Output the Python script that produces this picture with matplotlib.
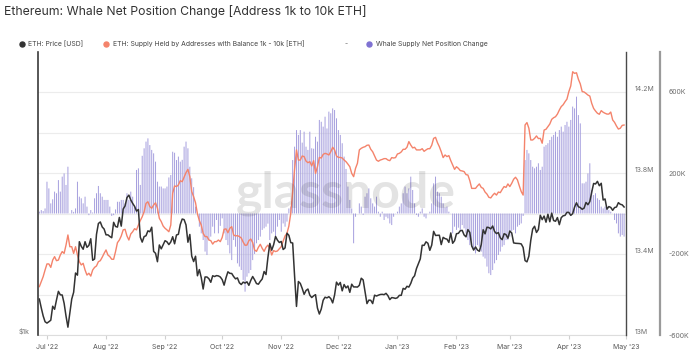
import matplotlib.pyplot as plt
import pandas as pd
from matplotlib.lines import Line2D

plt.rcParams['font.family'] = ['Inter', 'DejaVu Sans']

START = '2022-06-27'

# ETH price [USD], daily
price_jun = [1192, 1142, 1098, 1067]
price_jul = [1060, 1067, 1075, 1151, 1134, 1187, 1238, 1217, 1216, 1168,
             1097, 1039, 1112, 1192, 1232, 1354, 1340, 1578, 1543, 1521,
             1578, 1535, 1550, 1601, 1441, 1450, 1636, 1725, 1738, 1696, 1679]
price_aug = [1632, 1632, 1619, 1609, 1735, 1700, 1695, 1777, 1703, 1851,
             1880, 1958, 1982, 1935, 1903, 1876, 1833, 1847, 1613, 1575,
             1618, 1625, 1664, 1657, 1694, 1505, 1491, 1431, 1553, 1524, 1554]
price_sep = [1586, 1577, 1556, 1576, 1617, 1562, 1631, 1636, 1717, 1763,
             1758, 1713, 1574, 1635, 1471, 1432, 1470, 1336, 1377, 1324,
             1252, 1328, 1328, 1317, 1294, 1336, 1331, 1337, 1335, 1328]
price_oct = [1311, 1276, 1323, 1362, 1352, 1351, 1331, 1316, 1322, 1291,
             1280, 1295, 1289, 1297, 1275, 1306, 1331, 1310, 1286, 1282,
             1300, 1315, 1364, 1344, 1461, 1565, 1514, 1555, 1619, 1590, 1572]
price_nov = [1580, 1519, 1531, 1645, 1628, 1571, 1568, 1335, 1150, 1299,
             1287, 1256, 1220, 1243, 1252, 1215, 1201, 1211, 1218, 1141,
             1108, 1135, 1185, 1203, 1199, 1206, 1195, 1170, 1216, 1295]
price_dec = [1276, 1293, 1241, 1280, 1259, 1271, 1232, 1282, 1265, 1265,
             1264, 1275, 1320, 1309, 1235, 1166, 1186, 1185, 1166, 1215,
             1210, 1215, 1219, 1220, 1218, 1226, 1212, 1189, 1201, 1199, 1196]
price_jan = [1200, 1214, 1214, 1256, 1251, 1269, 1264, 1287, 1321, 1336,
             1384, 1418, 1451, 1551, 1550, 1577, 1566, 1513, 1552, 1660,
             1627, 1628, 1629, 1556, 1612, 1602, 1598, 1573, 1647, 1566, 1586]
price_feb = [1641, 1644, 1665, 1668, 1631, 1616, 1674, 1651, 1546, 1515,
             1538, 1515, 1506, 1556, 1673, 1640, 1694, 1691, 1680, 1704,
             1659, 1642, 1650, 1608, 1594, 1641, 1634, 1605]
price_mar = [1663, 1647, 1569, 1566, 1565, 1564, 1561, 1534, 1439, 1430,
             1470, 1588, 1679, 1702, 1651, 1675, 1796, 1758, 1789, 1736,
             1805, 1740, 1815, 1750, 1744, 1776, 1715, 1775, 1791, 1795, 1822]
price_apr = [1821, 1795, 1810, 1869, 1909, 1872, 1865, 1849, 1860, 1912,
             1891, 1920, 2011, 2098, 2093, 2120, 2075, 2100, 1935, 1945,
             1850, 1874, 1866, 1840, 1865, 1870, 1910, 1895, 1890, 1870]

price = (price_jun + price_jul + price_aug + price_sep + price_oct + price_nov
         + price_dec + price_jan + price_feb + price_mar + price_apr)

# supply held by 1k-10k addresses [million ETH], daily
supply = [
    13.239, 13.263, 13.288, 13.321, 13.351, 13.351, 13.334, 13.370, 13.387, 13.367,
    13.370, 13.395, 13.412, 13.403, 13.444, 13.494, 13.436, 13.436, 13.403, 13.436,
    13.395, 13.362, 13.346, 13.354, 13.321, 13.296, 13.305, 13.291, 13.321, 13.334,
    13.341, 13.362, 13.367, 13.384, 13.403, 13.420, 13.395, 13.387, 13.374, 13.374,
    13.412, 13.456, 13.469, 13.489, 13.519, 13.522, 13.489, 13.469, 13.499, 13.510,
    13.525, 13.519, 13.543, 13.565, 13.584, 13.609, 13.650, 13.658, 13.634, 13.626,
    13.642, 13.653, 13.626, 13.576, 13.560, 13.538, 13.527, 13.519, 13.510, 13.543,
    13.700, 13.736, 13.733, 13.741, 13.762, 13.757, 13.779, 13.802, 13.818, 13.782,
    13.708, 13.683, 13.653, 13.598, 13.565, 13.543, 13.502, 13.486, 13.486, 13.469,
    13.466, 13.449, 13.461, 13.461, 13.469, 13.461, 13.482, 13.522, 13.524, 13.505,
    13.527, 13.535,
    13.494, 13.489, 13.491, 13.486, 13.479, 13.459, 13.443, 13.444, 13.466, 13.474,
    13.456, 13.420, 13.413, 13.433, 13.448, 13.428, 13.413, 13.433, 13.444, 13.428,
    13.395, 13.417, 13.412, 13.415, 13.426, 13.436, 13.464, 13.489, 13.502, 13.538,
    13.601, 13.708, 13.818, 13.914, 13.864, 13.864, 13.884, 13.881, 13.859, 13.851,
    13.856, 13.835, 13.861, 13.798, 13.831, 13.877, 13.874, 13.892, 13.897, 13.894,
    13.889,
    13.905, 13.927, 13.914, 13.884, 13.877, 13.877, 13.874, 13.864, 13.856, 13.844,
    13.831, 13.798, 13.782, 13.823, 13.848, 13.914, 13.922, 13.927, 13.930, 13.937,
    13.938, 13.917, 13.905, 13.884, 13.864, 13.858, 13.864, 13.867, 13.871, 13.871,
    13.864, 13.861, 13.876, 13.874, 13.876, 13.894, 13.897, 13.904, 13.917, 13.917,
    13.927, 13.955, 13.938, 13.924, 13.927, 13.914, 13.914, 13.914, 13.920, 13.907,
    13.914, 13.920,
    13.920, 13.937, 13.971, 13.976, 13.950, 13.930, 13.905, 13.876, 13.889, 13.881,
    13.886, 13.861, 13.840, 13.818, 13.831, 13.823, 13.812, 13.810, 13.807, 13.792,
    13.790, 13.762, 13.724, 13.724, 13.724, 13.736, 13.746, 13.729, 13.724, 13.706,
    13.696, 13.680, 13.677, 13.690, 13.700, 13.691, 13.706, 13.703, 13.719, 13.733,
    13.729, 13.746, 13.733, 13.749, 13.769, 13.779, 13.766, 13.736, 13.708, 13.691,
    14.037,
    14.049, 14.021, 13.963, 13.963, 13.971, 13.983, 13.970, 13.971, 13.947, 14.012,
    14.016, 14.029, 14.042, 14.065, 14.073, 14.078, 14.091, 14.111, 14.128, 14.137,
    14.152, 14.165, 14.202, 14.230, 14.300, 14.292, 14.295, 14.263, 14.240, 14.202,
    14.200, 14.193, 14.185, 14.180, 14.144, 14.119, 14.106, 14.095, 14.090, 14.108,
    14.100, 14.095, 14.091, 14.091, 14.101, 14.062, 14.050, 14.032, 14.017, 14.021,
    14.035, 14.037,
]

# whale supply net position change [thousand ETH], daily
whale = [
    9, 17, 12, 25, 157, 124, 50, 70, 108, 100, 165, 108, 182, 198, 141, 231, 1, 17, 8, 25,
    157, 83, 75, 50, 83, 34, -8, 17, 5, 75, 100, 136, 100, 83, 67, 67, 67, 34, -12, -8,
    20, 58, 58, 67, 67, 50, 100, 67, 108, 83,
    34, 215, 223, 141, 285, 322, 355, 371, 338, 314, 297, 256, 157, 133, 133, 124, 124, 133,
    178, 190, 305, 300, 264, 281, 256, 265, 330, 355, 322, 231, 174, 130, 34, 1, -65, -98,
    -131, -188, -205, -131, -114, -65, -98, -32, -98, -61, -24, -98, -131, -156, -197, -230,
    -131, -164, -246, -262, -279, -328, -386, -312, -295, -279, -230, -200, -147, -131, -114,
    -81, -73, -65, -50, -131, -98, -90, -114, -65, -32, -90, -49, -65, -40, 25, 34, 264, 330,
    412, 388, 412, 350, 404, 330, 314, 404, 322, 320, 379, 355, 462, 453, 429, 478, 420, 503,
    495, 519, 511, 470, 412, 388, 347, 281, 220, 133, 67, 25, -147, -16, 0, 50, 34, -7, 83,
    100, 124, 75, 50, 34, 83, 9, -16, 9, -32, -16, -24, -49, -57, -16, 1, 9, 34, 50, 100, 133,
    100, 124, 182, 116, 50, -7, -16, 9, 25, -16, -24, 1,
    9, 50, 149, 182, 108, 100, 83, 50, 30, 34, 9, 1, -98, -65, -81, -70, -81, -57, -73, -98,
    -131, -156, -164, -180, -197, -156, -164, -188, -213, -222, -262, -295, -304, -279, -246,
    -230, -205, -188, -164, -156, -131, -131, -114, -86, -81, -98, -65, -57, -49, -12, 264,
    314, 297, 264, 231, 223, 231, 248, 215, 231, 330, 338, 347, 363, 379, 388, 404, 379, 412,
    429, 404, 437, 453, 429, 462, 528, 519, 577, 486, 445, 149, 149, 157, 198, 248, 116, 91,
    100, 75, 67, 34, 25, 34, 25, 17, 9, 1, -32, -49, -98, -114, -106, -114,
]

month_ticks = pd.date_range('2022-07-01', '2023-05-01', freq='MS')
month_labels = [d.strftime("%b '%y") for d in month_ticks]

COL_PRICE = '#333333'
COL_SUPPLY = '#f4836b'
COL_WHALE = '#a39cdd'
COL_WHALE_DOT = '#7f72d2'
TICK_COL = '#6f6f6f'

d_price = pd.date_range(START, periods=len(price), freq='D')
d_supply = pd.date_range(START, periods=len(supply), freq='D')
d_whale = pd.date_range(START, periods=len(whale), freq='D')

fig = plt.figure(figsize=(6.96, 3.54), dpi=100)
L, R, B, T = 38 / 696, 626 / 696, 1 - 335 / 354, 1 - 51.5 / 354
ax_w = fig.add_axes([L, B, R - L, T - B])
ax_s = ax_w.twinx()
ax_p = ax_w.twinx()

# whale bars (bottom layer)
ax_w.bar(d_whale, whale, width=0.5, color=COL_WHALE, linewidth=0, zorder=2,
         snap=False)
ax_w.set_ylim(-600, 800)
ax_w.set_yticks([-600, -200, 200, 600])
ax_w.set_yticklabels(['-600K', '-200K', '200K', '600K'])
ax_w.set_yticks([-400, 0, 400], minor=True)
ax_w.yaxis.tick_right()
ax_w.grid(True, axis='y', which='both', color='#ececec', linewidth=0.8, zorder=0)
ax_w.set_axisbelow(True)

# supply line
ax_s.plot(d_supply, supply, color=COL_SUPPLY, linewidth=1.0)
ax_s.set_ylim(13.0, 14.4)
ax_s.set_yticks([13.0, 13.4, 13.8, 14.2])
ax_s.set_yticklabels(['13M', '13.4M', '13.8M', '14.2M'])

# price line (log scale, left)
ax_p.plot(d_price, price, color=COL_PRICE, linewidth=1.1)
ax_p.set_yscale('log')
ax_p.set_ylim(1000, 4000)
ax_p.yaxis.set_ticks_position('left')
ax_p.set_yticks([1000])
ax_p.set_yticklabels(['$1k'])
ax_p.yaxis.set_minor_locator(plt.NullLocator())

ax_w.set_xlim(pd.Timestamp('2022-06-26 07:00'), pd.Timestamp('2023-05-01'))
ax_w.set_xticks(month_ticks)
ax_w.set_xticklabels(month_labels)
ax_w.tick_params(axis='x', length=3, color='#d0d0d0', labelsize=5.0,
                 labelcolor='#555555', pad=3.5)

for a in (ax_w, ax_s, ax_p):
    for s in a.spines.values():
        s.set_visible(False)
    a.tick_params(axis='y', which='both', length=0, labelsize=5.0,
                  labelcolor=TICK_COL, pad=6)
    for t in a.get_yticklabels():
        t.set_va('bottom')

ax_w.spines['bottom'].set_visible(True)
ax_w.spines['bottom'].set_color('#dddddd')
ax_w.spines['right'].set_visible(True)
ax_w.spines['right'].set_position(('axes', 622 / 588))
ax_w.spines['right'].set_color('#9a9a9a')
ax_w.spines['right'].set_linewidth(1.6)
ax_s.spines['right'].set_visible(True)
ax_s.spines['right'].set_color('#4a4a4a')
ax_s.spines['right'].set_linewidth(1.0)
ax_p.spines['left'].set_visible(True)
ax_p.spines['left'].set_color('#3a3a3a')
ax_p.spines['left'].set_linewidth(1.2)

# title and legend
fig.text(4 / 696, 1 - 11 / 354, 'Ethereum: Whale Net Position Change [Address 1k to 10k ETH]',
         fontsize=8.8, color='#333333', va='center')

ly = 1 - 44 / 354
legend_items = [
    (22, 28, COL_PRICE, 'ETH: Price [USD]'),
    (106, 113, COL_SUPPLY, 'ETH: Supply Held by Addresses with Balance 1k - 10k [ETH]'),
    (369, 376, COL_WHALE_DOT, 'Whale Supply Net Position Change'),
]
for mx, tx, col, lab in legend_items:
    fig.add_artist(Line2D([mx / 696], [ly], marker='o', markersize=3.6, color=col,
                          linestyle='none', transform=fig.transFigure))
    fig.text(tx / 696, ly, lab, fontsize=4.9, color='#444444', va='center')
fig.text(345 / 696, ly, '-', fontsize=4.9, color='#666666', va='center')

# watermark
fig.text(346 / 696, 1 - 208 / 354, 'glassnode', fontsize=36, color='#000000',
         alpha=0.11, ha='center', va='baseline', fontweight='bold',
         family=['Lato', 'DejaVu Sans'])

fig.savefig('out.png', dpi=100)
